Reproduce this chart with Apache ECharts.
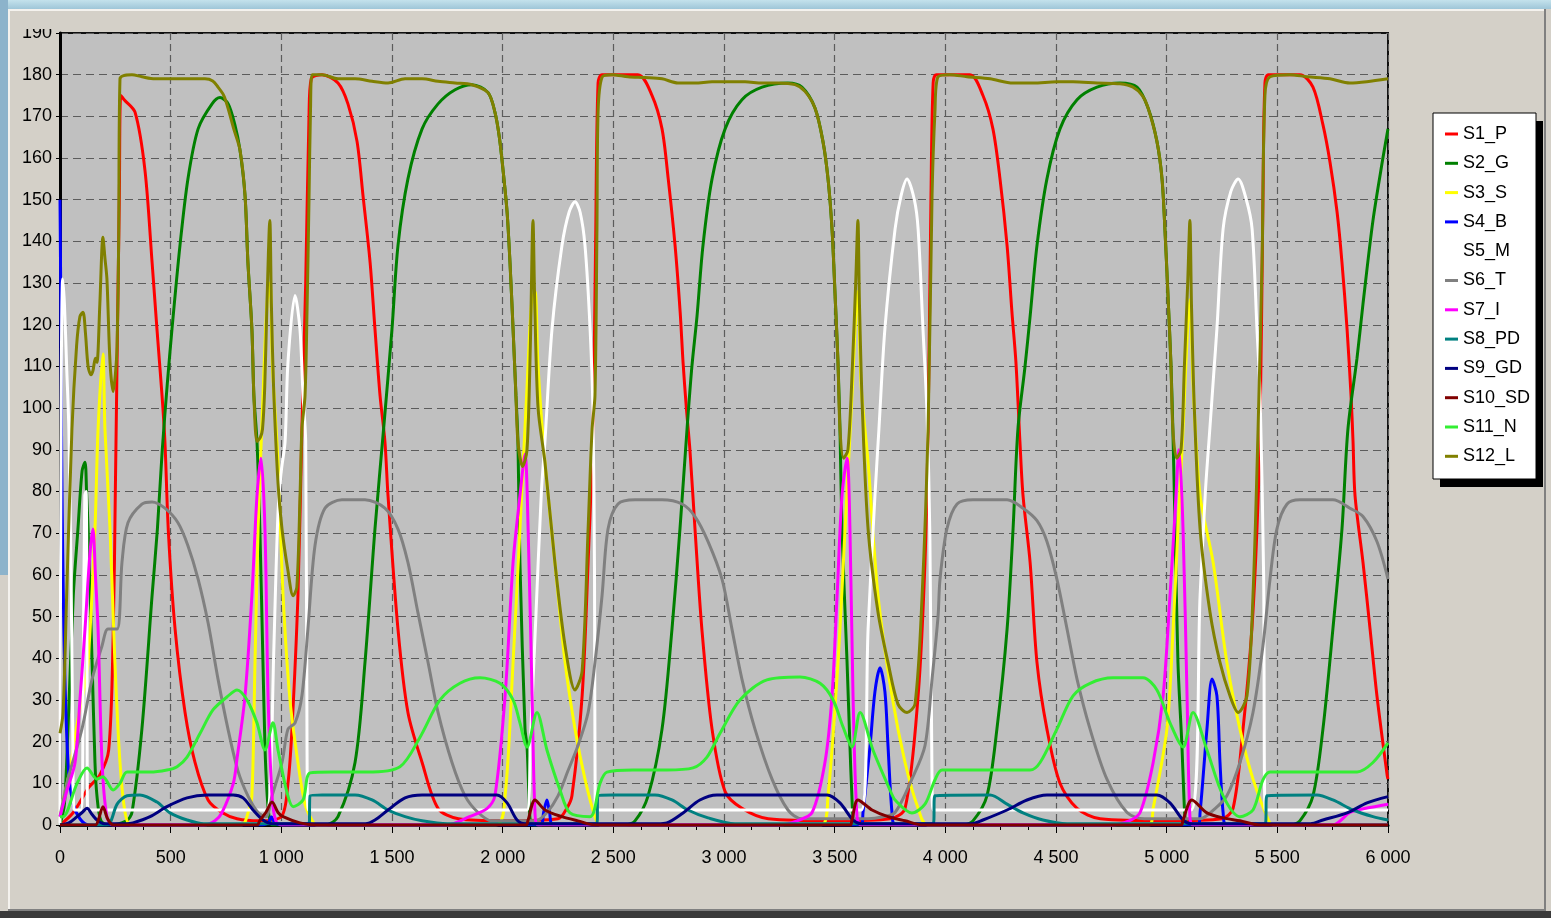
<!DOCTYPE html>
<html><head><meta charset="utf-8">
<script src="https://cdn.jsdelivr.net/npm/echarts@6/dist/echarts.min.js"></script>
<style>
html,body{margin:0;padding:0;width:1551px;height:918px;overflow:hidden;background:#d4d0c8;}
.d{position:absolute;}
#chart{position:absolute;left:0;top:0;width:1551px;height:918px;}
</style></head><body>
<div class="d" style="left:0;top:0;width:1551px;height:9px;background:linear-gradient(#c4e2ec,#9fc6d8);"></div>
<div class="d" style="left:0;top:0;width:8px;height:575px;background:#8cb3cb;"></div>
<div class="d" style="left:8px;top:9px;width:1537px;height:2px;background:#f4f2ee;"></div>
<div class="d" style="left:8px;top:9px;width:2px;height:902px;background:#f4f2ee;"></div>
<div class="d" style="left:8px;top:909px;width:1538px;height:2px;background:#808080;"></div>
<div class="d" style="left:0;top:911px;width:1551px;height:7px;background:#3a3a3a;"></div>
<div class="d" style="left:1544px;top:9px;width:2px;height:902px;background:#808080;"></div>
<div class="d" style="left:1546px;top:9px;width:5px;height:902px;background:#d4d0c8;"></div>
<div id="chart"></div>
<div class="d" style="left:10px;top:11px;width:48px;height:18px;background:#d4d0c8;"></div>
<script>
const seriesNames = ['S1_P','S2_G','S3_S','S4_B','S5_M','S6_T','S7_I','S8_PD','S9_GD','S10_SD','S11_N','S12_L'];
const seriesColors = ['#ff0000','#008000','#ffff00','#0000ff','#ffffff','#808080','#ff00ff','#008080','#000080','#800000','#33ee33','#808000'];

const S1_P = [[0,0],[60,3],[130,9],[180,12],[220,18],[240,45],[250,80],[260,120],[268,150],[275,175],[290,174],[339,171],[384,157],[416,135],[438,119],[461,103],[474,92],[490,70],[520,47],[565,27],[610,15],[669,6],[732,3],[800,1.5],[900,1],[1000,2],[1030,10],[1048,23],[1075,55],[1093,95],[1110,130],[1125,170],[1135,179],[1184,180],[1256,178],[1301,173],[1342,164],[1369,151],[1401,135],[1423,119],[1446,103],[1468,92],[1482,79],[1527,47],[1572,27],[1636,15],[1708,4],[1800,1.5],[2000,1],[2250,1.5],[2290,4],[2313,7],[2359,31],[2386,63],[2408,95],[2420,140],[2431,178],[2449,180],[2611,180],[2675,175],[2720,167],[2748,155],[2779,139],[2802,123],[2815,111],[2830,100],[2846,90],[2869,71],[2900,47],[2946,23],[3005,8],[3081,4],[3200,1.5],[3500,1],[3750,1.5],[3818,4],[3877,31],[3908,63],[3922,95],[3935,150],[3945,178],[3960,180],[4111,180],[4170,175],[4215,167],[4247,155],[4279,139],[4301,123],[4319,111],[4337,92],[4351,79],[4383,63],[4414,39],[4459,23],[4518,10],[4595,4],[4700,1.5],[5000,1],[5250,1.5],[5300,4],[5345,23],[5385,47],[5408,71],[5422,95],[5435,150],[5444,178],[5460,180],[5602,180],[5661,177],[5706,168],[5738,159],[5770,147],[5792,135],[5815,119],[5833,103],[5842,92],[5851,79],[5887,63],[5919,47],[5950,31],[5996,12],[6000,11]];

const S2_G = [[0,0],[20,5],[36,23],[60,55],[81,71],[100,85],[113,87],[120,80],[127,71],[145,39],[158,15],[167,7],[185,1],[220,0],[300,1],[325,3],[370,23],[416,55],[440,71],[462,90],[485,106],[506,119],[542,139],[578,155],[624,167],[687,173],[723,174.5],[760,173],[790,168],[813,162],[836,151],[849,135],[867,119],[876,103],[890,92],[903,71],[917,39],[926,19],[935,8],[945,2],[960,0],[1200,0],[1256,2],[1333,15],[1378,39],[1423,71],[1462,95],[1500,119],[1527,139],[1572,155],[1636,167],[1708,173],[1785,176.4],[1861,177.6],[1934,175.7],[1965,171],[1985,165],[2002,157],[2020,147],[2033,135],[2047,119],[2060,103],[2069,92],[2078,63],[2101,23],[2110,19],[2118,8],[2125,1],[2140,0],[2550,0],[2598,1],[2657,7],[2720,23],[2765,47],[2801,71],[2833,95],[2855,110],[2878,122],[2905,139],[2946,155],[3005,167],[3081,174],[3172,177],[3289,178],[3352,177],[3411,172],[3447,164],[3470,155],[3488,143],[3502,127],[3515,111],[3524,95],[3533,71],[3556,39],[3569,19],[3577,8],[3585,1],[3600,0],[4080,0],[4125,1],[4188,7],[4233,23],[4279,47],[4306,71],[4328,95],[4360,110],[4383,122],[4414,139],[4459,155],[4518,167],[4595,174],[4685,177],[4789,178],[4866,177],[4916,172],[4956,164],[4979,155],[4992,143],[5006,127],[5019,111],[5028,95],[5038,71],[5051,39],[5069,19],[5077,8],[5085,1],[5100,0],[5560,0],[5602,1],[5661,7],[5706,23],[5751,47],[5792,71],[5819,95],[5860,112],[5887,125],[5932,145],[5977,160],[6000,167]];

const S3_S = [[0,3],[40,12],[80,25],[110,33],[127,39],[158,71],[172,95],[194,113],[203,95],[226,71],[248,39],[271,15],[294,3],[320,0],[820,0],[850,3],[867,7],[881,39],[895,71],[915,100],[935,125],[949,130],[960,110],[985,87],[1008,55],[1039,30],[1075,15],[1107,5],[1140,1],[1160,0],[1970,0],[2011,7],[2047,39],[2078,71],[2110,105],[2130,125],[2146,128],[2160,110],[2191,87],[2236,63],[2282,39],[2327,23],[2372,11],[2417,2],[2440,0],[3440,0],[3470,7],[3515,39],[3547,71],[3580,105],[3598,125],[3605,128],[3620,105],[3651,87],[3696,55],[3759,31],[3818,15],[3877,4],[3920,0],[4920,0],[4939,4],[5001,23],[5029,47],[5051,71],[5074,95],[5095,120],[5105,126],[5120,105],[5151,79],[5210,63],[5272,39],[5331,23],[5390,11],[5453,2],[5480,0],[6000,0]];

const S4_B = [[0,150],[3,130],[6,100],[10,75],[15,55],[20,40],[28,25],[40,12],[60,5],[90,1.5],[130,0],[900,0],[940,0.5],[955,2],[970,0.5],[1000,0],[2170,0],[2185,3],[2200,6],[2212,3],[2228,0],[3620,0],[3628,3],[3660,19],[3682,32],[3705,37.7],[3727,32],[3741,19],[3759,3],[3775,0],[5140,0],[5151,3],[5182,23],[5205,35],[5227,31],[5241,15],[5255,3],[5270,0],[6000,0]];

const S5_M = [[0,0],[5,100],[12,131],[20,125],[30,110],[40,95],[50,60],[58,20],[65,3.6],[95,3.6],[105,40],[112,79],[118,80],[122,40],[125,3.6],[930,3.6],[950,10],[965,40],[985,75],[1000,85],[1017,92],[1030,111],[1062,127],[1084,119],[1098,103],[1110,92],[1116,20],[1122,3.6],[2110,3.6],[2125,20],[2150,50],[2175,80],[2191,92],[2223,119],[2268,139],[2300,147],[2327,149.5],[2350,147],[2372,139],[2395,119],[2408,99],[2415,60],[2418,3.6],[3620,3.6],[3651,47],[3682,79],[3700,95],[3727,119],[3773,143],[3800,151],[3827,155],[3860,150],[3877,143],[3899,119],[3917,99],[3930,70],[3940,10],[3945,3.6],[5110,3.6],[5151,55],[5175,80],[5195,95],[5215,110],[5227,119],[5255,143],[5290,152],[5323,155],[5360,150],[5386,143],[5408,119],[5422,103],[5438,60],[5446,3.6],[6000,3.6]];

const S6_T = [[0,2],[36,11],[99,23],[145,35],[190,43],[217,47],[258,47],[280,63],[307,72.5],[370,77],[416,77.5],[474,76],[533,72.5],[578,67],[624,59],[669,48.5],[714,35],[759,23],[804,13],[849,7],[895,3],[930,2],[958,7],[1003,15],[1030,23],[1062,24.5],[1093,31],[1120,47],[1152,67],[1197,76],[1274,78],[1378,78],[1468,76],[1527,71],[1572,63],[1617,51],[1663,39],[1708,27],[1771,15],[1830,7],[1889,3],[1950,1],[2150,1],[2200,3],[2250,7],[2295,13],[2340,19],[2386,27],[2417,39],[2449,55],[2476,71],[2521,77],[2598,78],[2720,78],[2810,77],[2869,74],[2928,68],[2991,59],[3036,47],[3081,35],[3140,23],[3217,11],[3289,3.6],[3350,1.5],[3650,1.5],[3720,2],[3773,3],[3849,11],[3908,19],[3940,35],[3967,50],[3976,59],[4007,71],[4053,77],[4125,78],[4279,78],[4351,76],[4414,73],[4459,68],[4504,59],[4550,47],[4595,35],[4654,23],[4730,11],[4821,3],[4900,1.5],[5150,1.5],[5220,4],[5272,7],[5331,15],[5390,27],[5435,43],[5467,59],[5498,71],[5544,77],[5602,78],[5751,78],[5828,76],[5887,74],[5950,68],[6000,59]];

const S7_I = [[0,2],[30,8],[68,15],[90,30],[113,47],[135,65],[149,71],[160,60],[172,47],[190,15],[212,2],[240,0],[650,0],[700,1],[732,3],[783,10],[800,16],[836,31],[867,55],[890,79],[908,88],[926,71],[940,31],[958,7],[975,1],[1000,0],[1750,0],[1850,2],[1930,4],[1965,7],[2011,31],[2047,63],[2078,79],[2101,89],[2115,71],[2133,31],[2146,3],[2160,0],[3250,0],[3330,1],[3398,3],[3456,15],[3488,31],[3511,55],[3533,79],[3556,88],[3569,71],[3583,31],[3601,2],[3620,0],[4750,0],[4830,1],[4880,3],[4939,15],[4984,31],[5015,55],[5038,75],[5056,90],[5074,71],[5092,31],[5105,2],[5120,0],[5750,0],[5828,3],[5900,4],[6000,5]];

const S8_PD = [[0,0],[200,0],[226,0.5],[258,5],[303,7],[361,7.2],[438,5.5],[497,2.9],[574,1.2],[650,0.3],[1125,0.3],[1130,7],[1184,7.2],[1333,7.2],[1410,6],[1482,3.6],[1559,2],[1636,1],[1750,0.3],[2425,0.3],[2431,7],[2494,7.2],[2688,7.2],[2765,6],[2837,3.6],[2928,1.7],[3050,0.3],[3945,0.3],[3953,7],[4202,7.2],[4279,5],[4351,2.9],[4441,1.2],[4550,0.3],[5445,0.3],[5453,7],[5679,7.2],[5751,6],[5842,3.6],[5932,2],[6000,1.2]];

const S9_GD = [[0,0],[40,0.5],[77,2],[100,3],[122,4],[145,2.5],[167,1.2],[200,0.3],[300,0.3],[330,0.5],[407,2],[483,4.4],[574,6.5],[664,7.2],[782,7.2],[827,6.5],[872,3.6],[917,1.2],[960,0.3],[1380,0.3],[1423,1.2],[1482,3.6],[1559,6.5],[1636,7.2],[1974,7.2],[2020,5.3],[2065,1.2],[2100,0.3],[2700,0.3],[2742,0.5],[2815,2.9],[2891,6],[2968,7.2],[3466,7.2],[3524,5.3],[3583,1.2],[3620,0.3],[4120,0.3],[4170,1.2],[4279,3.6],[4369,6],[4459,7.2],[4956,7.2],[5015,5.3],[5074,1.2],[5110,0.3],[5650,0.3],[5706,1.2],[5815,2.9],[5905,5.3],[6000,6.8]];

const S10_SD = [[0,0],[160,0],[175,1.5],[194,4.4],[215,1.5],[240,0],[890,0],[904,1.2],[930,3],[958,5.5],[985,3],[1008,2],[1084,0.5],[1150,0],[2105,0],[2115,1.2],[2146,6],[2191,3.6],[2268,2],[2340,1],[2420,0],[3570,0],[3578,1.2],[3605,6],[3669,3.6],[3741,2],[3818,1],[3900,0],[5065,0],[5074,1.2],[5114,6],[5182,2.9],[5255,1.7],[5331,1],[5420,0],[6000,0]];

const S11_N = [[0,2],[14,2],[77,10],[122,13.7],[167,11],[194,11.6],[240,8.4],[271,10],[303,12.7],[407,12.7],[483,13.2],[529,14],[574,16.3],[633,22],[691,27.6],[754,30.7],[800,32.4],[845,30],[890,24.5],[926,18],[962,24.5],[985,18],[1026,7.7],[1053,4.4],[1098,6],[1130,12.5],[1234,12.7],[1387,12.7],[1536,14],[1626,21],[1717,30],[1807,34],[1898,35.3],[1988,34],[2047,30],[2078,24.5],[2110,18.7],[2155,27],[2200,18],[2259,8.4],[2304,2.9],[2395,2],[2440,10],[2471,12.7],[2589,13.2],[2742,13.2],[2860,13.7],[2923,16.3],[2982,22],[3072,30],[3194,34.8],[3343,35.5],[3434,34],[3493,30],[3538,23.5],[3578,18.7],[3615,27],[3673,18],[3750,8.4],[3773,6],[3849,2.9],[3908,5],[3953,10.8],[3985,13.2],[4383,13.2],[4428,15],[4504,23],[4577,31],[4654,34],[4758,35.3],[4893,35.3],[4956,32.4],[5015,24.5],[5074,18.7],[5119,27],[5182,18],[5255,7],[5331,2],[5390,3.6],[5435,10.8],[5467,12.7],[5860,12.7],[5932,15],[6000,19.7]];

const S12_L = [[0,22],[14,27],[30,55],[54,95],[75,115],[90,122],[104,123],[115,118],[127,110],[140,108],[149,109],[160,112],[167,111],[180,125],[194,141],[203,136],[212,131],[226,111],[240,104],[250,108],[258,115],[265,140],[271,179],[325,180],[370,179.5],[429,179],[506,179],[578,179],[655,179],[690,178.5],[714,177],[740,175],[759,172],[785,167],[813,162],[836,151],[849,135],[867,119],[876,103],[890,92],[905,93],[915,95],[925,105],[935,125],[948,145],[955,125],[965,105],[985,82],[1003,71],[1030,61],[1053,55],[1070,57],[1085,80],[1093,95],[1107,103],[1116,123],[1125,150],[1132,172],[1140,180],[1184,180],[1256,179],[1333,179],[1410,178.4],[1482,178],[1559,179],[1636,179],[1708,178.4],[1785,178],[1861,177.6],[1934,175.7],[1965,171],[1985,165],[2002,157],[2020,147],[2033,135],[2047,119],[2060,103],[2069,92],[2090,86],[2110,90],[2125,115],[2137,145],[2145,125],[2160,100],[2191,87],[2236,63],[2282,43],[2327,32.4],[2359,37],[2386,71],[2404,95],[2417,103],[2426,143],[2431,171],[2449,179.4],[2494,180],[2566,179.5],[2643,179.3],[2720,179],[2792,178],[2869,178],[2946,178.3],[3018,178.3],[3095,178.3],[3172,178],[3244,178],[3321,177.6],[3366,176],[3411,172],[3447,164],[3470,155],[3488,143],[3502,127],[3515,111],[3524,95],[3540,88],[3560,90],[3580,110],[3595,130],[3605,145],[3612,125],[3625,100],[3651,71],[3696,51],[3741,39],[3786,29],[3827,27],[3863,29],[3895,55],[3922,95],[3940,151],[3953,171],[3967,179.5],[4021,180],[4098,179.5],[4202,179],[4306,178],[4396,178],[4504,178.3],[4577,178.3],[4685,178],[4789,177.8],[4848,177],[4890,175],[4916,172],[4956,164],[4979,155],[4992,143],[5006,127],[5019,111],[5028,95],[5045,88],[5065,90],[5080,110],[5095,130],[5105,145],[5112,125],[5125,100],[5151,71],[5196,51],[5241,39],[5286,31],[5323,27],[5363,31],[5390,55],[5413,95],[5431,135],[5444,175],[5467,179.5],[5557,180],[5634,179.5],[5738,179],[5828,178],[5904,178.3],[6000,179]];

const seriesData = [S1_P,S2_G,S3_S,S4_B,S5_M,S6_T,S7_I,S8_PD,S9_GD,S10_SD,S11_N,S12_L];

const chart = echarts.init(document.getElementById('chart'), null, {renderer:'canvas'});
const font = 'Liberation Sans, Arial, sans-serif';
function fmtX(v){ if(v<1000) return String(v); return Math.floor(v/1000)+' '+String(v%1000).padStart(3,'0'); }

chart.setOption({
  animation:false,
  backgroundColor:'transparent',
  grid:{left:60,right:163,top:33,bottom:93,show:true,backgroundColor:'#c0c0c0',borderColor:'#101010',borderWidth:2},
  xAxis:{type:'value',min:0,max:6000,interval:500,
    axisLine:{lineStyle:{color:'#000',width:3}},
    axisTick:{length:8,lineStyle:{color:'#000',width:1}},
    minorTick:{show:true,splitNumber:4,length:5,lineStyle:{color:'#000',width:1}},
    splitLine:{show:true,lineStyle:{color:'#5c5c5c',width:1.2,type:[7,4]}},
    axisLabel:{formatter:fmtX,color:'#000',fontSize:18,fontFamily:font,margin:24}},
  yAxis:{type:'value',min:0,max:190,interval:10,
    axisLine:{show:true,lineStyle:{color:'#000',width:3}},
    axisTick:{show:true,length:4,lineStyle:{color:'#000',width:1}},
    splitLine:{show:true,lineStyle:{color:'#5c5c5c',width:1.2,type:[8,5]}},
    axisLabel:{color:'#000',fontSize:18,fontFamily:font,margin:8}},
  legend:{orient:'vertical',left:1440,top:119,icon:'rect',itemWidth:13,itemHeight:3,itemGap:9.3,
    selectedMode:false,data:seriesNames,
    textStyle:{color:'#000',fontSize:18,fontFamily:font,lineHeight:20,padding:[0,0,0,0]}},
  graphic:[
    {type:'rect',shape:{x:1440,y:121,width:103,height:366},style:{fill:'#000'},z:-1},
    {type:'rect',shape:{x:1433,y:113,width:103,height:366},style:{fill:'#fff',stroke:'#000',lineWidth:1},z:-1}
  ],
  series: seriesNames.map((n,i)=>({
    name:n,type:'line',data:seriesData[i],showSymbol:false,symbol:'none',
    smooth:0.3,
    color:seriesColors[i],
    lineStyle:{color:seriesColors[i],width:3},
    z:2+i
  }))
});
</script>
</body></html>
